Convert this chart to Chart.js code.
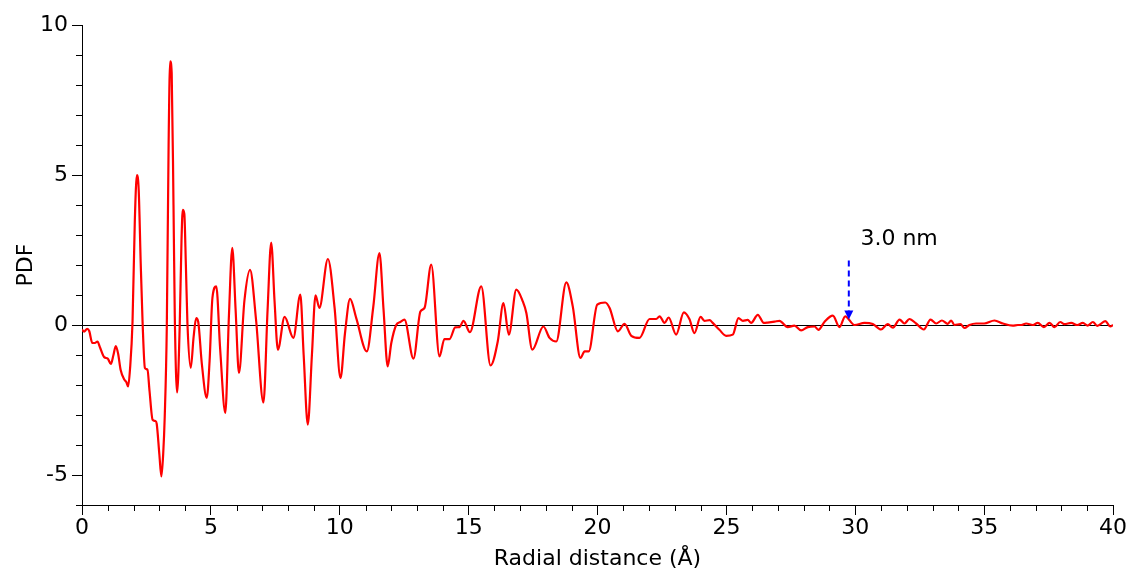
<!DOCTYPE html>
<html>
<head>
<meta charset="utf-8">
<script src="https://cdn.jsdelivr.net/npm/chart.js@4"></script>
<style>
    html, body { margin: 0; padding: 0; background: #fff; }
    #pdfChart { display: block; }
</style>
</head>
<body>
<canvas id="pdfChart" width="1132" height="572"></canvas>
<script>
// radial distance (Å) and PDF values
const radius = [
    0.00, 0.08, 0.20, 0.28, 0.40, 0.50, 0.60, 0.70, 0.86, 1.00,
    1.12, 1.22, 1.31, 1.40, 1.50, 1.64, 1.72, 1.79, 1.86, 1.96,
    2.05, 2.13, 2.20, 2.28, 2.35, 2.44, 2.54, 2.62, 2.74, 2.85,
    2.90, 3.00, 3.08, 3.15, 3.21, 3.29, 3.36, 3.42, 3.48, 3.55,
    3.60, 3.69, 3.79, 3.86, 3.91, 3.97, 4.03, 4.09, 4.22, 4.33,
    4.43, 4.51, 4.65, 4.84, 4.95, 5.06, 5.21, 5.36, 5.56, 5.70,
    5.83, 5.96, 6.09, 6.30, 6.52, 6.75, 7.04, 7.20, 7.34, 7.47,
    7.60, 7.86, 8.20, 8.47, 8.60, 8.76, 8.92, 9.06, 9.21, 9.54,
    9.80, 10.03, 10.20, 10.40, 10.64, 11.05, 11.30, 11.54, 11.70, 11.86,
    12.00, 12.19, 12.35, 12.51, 12.86, 13.13, 13.29, 13.55, 13.87, 14.06,
    14.26, 14.48, 14.65, 14.80, 15.05, 15.49, 15.85, 16.13, 16.35, 16.56,
    16.85, 17.10, 17.24, 17.47, 17.90, 18.14, 18.40, 18.79, 19.04, 19.34,
    19.50, 19.66, 19.99, 20.30, 20.47, 20.79, 21.05, 21.31, 21.63, 22.02,
    22.28, 22.41, 22.60, 22.76, 23.05, 23.35, 23.57, 23.76, 24.00, 24.15,
    24.35, 24.47, 24.73, 24.99, 25.25, 25.47, 25.64, 25.83, 25.96, 26.22,
    26.45, 26.60, 26.87, 27.06, 27.38, 27.64, 27.90, 28.16, 28.42, 28.57,
    28.81, 29.13, 29.39, 29.61, 29.97, 30.36, 30.68, 31.00, 31.26, 31.46,
    31.72, 31.91, 32.10, 32.36, 32.66, 32.92, 33.14, 33.36, 33.59, 33.72,
    33.85, 34.08, 34.24, 34.43, 34.69, 35.00, 35.40, 35.73, 36.11, 36.31,
    36.44, 36.63, 36.89, 37.08, 37.32, 37.54, 37.73, 37.95, 38.12, 38.38,
    38.61, 38.83, 39.02, 39.22, 39.39, 39.70, 39.90, 40.00
];
const pdf = [
    -0.15, -0.22, -0.13, -0.20, -0.60, -0.60, -0.55, -0.75, -1.07, -1.12,
    -1.30, -1.00, -0.70, -0.95, -1.50, -1.82, -1.90, -2.05, -1.50, 0.10,
    3.50, 5.00, 4.50, 2.00, 0.10, -1.43, -1.49, -2.20, -3.16, -3.20,
    -3.30, -4.30, -5.05, -4.30, -3.05, -0.05, 6.00, 8.79, 8.40, 4.00,
    0.30, -2.25, -0.05, 2.80, 3.84, 3.70, 2.00, 0.07, -1.43, -0.40,
    0.23, 0.10, -1.30, -2.43, -1.20, 0.90, 1.29, -0.80, -2.93, 0.30,
    2.57, 0.50, -1.60, 0.80, 1.84, 0.20, -2.58, 0.50, 2.75, 0.80,
    -0.82, 0.27, -0.43, 1.01, -1.00, -3.32, -1.00, 0.99, 0.57, 2.20,
    0.57, -1.77, -0.30, 0.87, 0.23, -0.88, 0.60, 2.40, 0.50, -1.38,
    -0.60, 0.00, 0.10, 0.18, -1.12, 0.45, 0.57, 2.01, -1.05, -0.47,
    -0.47, -0.08, -0.07, 0.14, -0.24, 1.29, -1.35, -0.55, 0.73, -0.32,
    1.18, 0.79, 0.40, -0.82, -0.05, -0.43, -0.55, 1.42, 0.62, -1.10,
    -0.88, -0.88, 0.68, 0.75, 0.57, -0.21, 0.04, -0.36, -0.43, 0.20,
    0.20, 0.29, 0.07, 0.25, -0.32, 0.42, 0.19, -0.27, 0.27, 0.14,
    0.16, 0.07, -0.16, -0.36, -0.32, 0.23, 0.14, 0.17, 0.07, 0.34,
    0.07, 0.08, 0.11, 0.14, -0.07, -0.02, -0.18, -0.07, -0.05, -0.16,
    0.11, 0.31, -0.07, 0.29, 0.00, 0.07, 0.03, -0.15, 0.03, -0.09,
    0.18, 0.05, 0.20, 0.05, -0.15, 0.18, 0.05, 0.15, 0.04, 0.15,
    0.00, 0.03, -0.10, 0.00, 0.05, 0.05, 0.15, 0.05, -0.02, 0.00,
    0.00, 0.05, 0.00, 0.07, -0.07, 0.07, -0.07, 0.10, 0.03, 0.07,
    0.00, 0.07, -0.02, 0.10, -0.03, 0.13, -0.05, 0.00
];
const xTicks = [0, 5, 10, 15, 20, 25, 30, 35, 40];
const yTicks = [-5, 0, 5, 10];

// the "3.0 nm" marker
const marker = { r: 29.75, from: 2.15, to: 0.18, label: "3.0 nm", labelR: 30.2, labelY: 2.68 };

const font = "'DejaVu Sans', Verdana, sans-serif";

// minor ticks every 1 unit, plus the dashed arrow with its label
const extras = {
    id: "extras",
    afterDraw(chart) {
        let ctx = chart.ctx;
        let xs = chart.scales.x;
        let ys = chart.scales.y;
        let area = chart.chartArea;
        ctx.save();
        ctx.strokeStyle = "#000";
        ctx.lineWidth = 1;
        ctx.beginPath();
        for (let v = xs.min; v <= xs.max; v++) {
            if (v % 5 === 0) continue;
            let px = Math.round(xs.getPixelForValue(v)) + 0.5;
            ctx.moveTo(px, area.bottom);
            ctx.lineTo(px, area.bottom + 6);
        }
        for (let v = ys.min; v <= ys.max; v++) {
            if (v % 5 === 0) continue;
            let py = Math.round(ys.getPixelForValue(v)) + 0.5;
            ctx.moveTo(area.left, py);
            ctx.lineTo(area.left - 6, py);
        }
        ctx.stroke();

        let ax = xs.getPixelForValue(marker.r);
        let top = ys.getPixelForValue(marker.from);
        let tip = ys.getPixelForValue(marker.to);
        ctx.strokeStyle = "#0000ff";
        ctx.fillStyle = "#0000ff";
        ctx.lineWidth = 2;
        ctx.setLineDash([6, 4]);
        ctx.beginPath();
        ctx.moveTo(ax, top);
        ctx.lineTo(ax, tip - 8);
        ctx.stroke();
        ctx.setLineDash([]);
        ctx.beginPath();
        ctx.moveTo(ax - 4.5, tip - 9);
        ctx.lineTo(ax + 4.5, tip - 9);
        ctx.lineTo(ax, tip);
        ctx.closePath();
        ctx.fill();

        ctx.fillStyle = "#000";
        ctx.font = "22px " + font;
        ctx.textAlign = "left";
        ctx.textBaseline = "alphabetic";
        ctx.fillText(marker.label, xs.getPixelForValue(marker.labelR), ys.getPixelForValue(marker.labelY));
        ctx.restore();
    }
};

let points = radius.map((r, i) => ({ x: r, y: pdf[i] }));

new Chart(document.getElementById("pdfChart"), {
    type: "line",
    data: {
        datasets: [
            {
                label: "PDF",
                data: points,
                borderColor: "#ff0000",
                borderWidth: 2.2,
                pointRadius: 0,
                fill: false,
                cubicInterpolationMode: "monotone",
            },
        ],
    },
    options: {
        responsive: false,
        animation: false,
        devicePixelRatio: 1,
        layout: { padding: { top: 25, right: 19, left: 0, bottom: 0 } },
        plugins: {
            legend: { display: false },
            tooltip: { enabled: false },
        },
        scales: {
            x: {
                type: "linear",
                min: 0,
                max: 40,
                afterBuildTicks: (s) => { s.ticks = xTicks.map((v) => ({ value: v })); },
                afterFit: (s) => { s.height = 67; },
                border: { color: "#000", width: 1 },
                grid: { drawOnChartArea: false, tickLength: 10, tickColor: "#000" },
                ticks: { color: "#000", font: { family: font, size: 22 }, padding: 0, maxRotation: 0, autoSkip: false },
                title: {
                    display: true,
                    text: "Radial distance (Å)",
                    color: "#000",
                    font: { family: font, size: 22 },
                    padding: { top: 0, bottom: 0 },
                },
            },
            y: {
                type: "linear",
                min: -6,
                max: 10,
                afterBuildTicks: (s) => { s.ticks = yTicks.map((v) => ({ value: v })); },
                afterFit: (s) => { s.width = 82; },
                border: { color: "#000", width: 1 },
                grid: {
                    color: (c) => (c.tick && c.tick.value === 0 ? "#000" : "rgba(0,0,0,0)"),
                    tickColor: "#000",
                    tickLength: 10,
                },
                ticks: { color: "#000", font: { family: font, size: 22 }, padding: 4 },
                title: {
                    display: true,
                    text: "PDF",
                    color: "#000",
                    font: { family: font, size: 22 },
                    padding: { top: 13, bottom: 0 },
                },
            },
        },
    },
    plugins: [extras],
});
</script>
</body>
</html>
